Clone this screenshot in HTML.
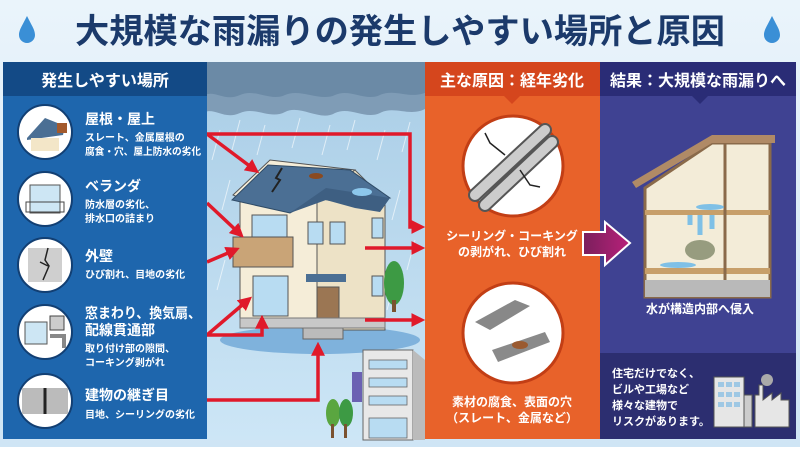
<!DOCTYPE html>
<html><head><meta charset="utf-8"><style>
body{margin:0;width:800px;height:447px;overflow:hidden;font-family:"Liberation Sans","Noto Sans CJK JP",sans-serif;}
svg text{font-family:"Liberation Sans","Noto Sans CJK JP",sans-serif;}
</style></head><body>
<svg width="800" height="447" viewBox="0 0 800 447" xmlns="http://www.w3.org/2000/svg">
<defs>
<linearGradient id="bg" x1="0" y1="0" x2="0" y2="1"><stop offset="0" stop-color="#eaf4fb"/><stop offset="1" stop-color="#cfe5f5"/></linearGradient>
<linearGradient id="sky" x1="0" y1="0" x2="0" y2="1"><stop offset="0" stop-color="#a9cde6"/><stop offset="1" stop-color="#cde6f6"/></linearGradient>
<linearGradient id="pa" x1="0" y1="0" x2="1" y2="0"><stop offset="0" stop-color="#7a1f5c"/><stop offset="1" stop-color="#b8207a"/></linearGradient>
<marker id="ar" markerWidth="4" markerHeight="4" refX="2.5" refY="2" orient="auto" markerUnits="strokeWidth"><path d="M0,0 L4,2 L0,4 Z" fill="#e0192a"/></marker>
</defs>
<rect width="800" height="447" fill="url(#bg)"/>
<path d="M27,16 C22,26 19,30 19,35 A8,8 0 0 0 35,35 C35,30 32,26 27,16Z" fill="#3a8fd6"/>
<path d="M772,16 C767,26 764,30 764,35 A8,8 0 0 0 780,35 C780,30 777,26 772,16Z" fill="#3a8fd6"/>
<text x="400" y="43" text-anchor="middle" font-size="34" font-weight="bold" fill="#1b3a6b" textLength="650" lengthAdjust="spacingAndGlyphs">大規模な雨漏りの発生しやすい場所と原因</text>

<rect x="205" y="62" width="222" height="378" fill="url(#sky)"/>
<path d="M205,62 H427 V108 C410,118 395,105 380,113 C365,120 350,106 335,113 C320,122 300,104 285,112 C270,120 255,106 240,113 C225,120 215,108 205,112Z" fill="#7f9cb6"/>
<path d="M205,62 H427 V92 C410,100 395,88 380,95 C365,102 350,88 335,95 C320,102 300,88 285,95 C270,102 255,88 240,95 C225,102 215,90 205,95Z" fill="#6b8aa6"/>
<g stroke="#ffffff" stroke-opacity="0.6" stroke-width="1">
<path d="M220,130 l-8,30 M240,120 l-8,30 M265,125 l-8,30 M300,118 l-8,30 M330,125 l-8,30 M355,120 l-8,30 M385,130 l-8,30 M410,122 l-8,30 M230,180 l-8,30 M400,190 l-8,30 M415,240 l-8,30 M225,260 l-8,30 M395,280 l-8,30"/>
</g>
<ellipse cx="320" cy="340" rx="100" ry="14" fill="#7fb2dc"/>
<polygon points="233,195 270,160 355,170 317,200 317,330 240,320 240,198" fill="#f5edd8" stroke="#555" stroke-width="1"/>
<polygon points="317,200 355,170 385,200 385,330 317,330" fill="#ede2c6" stroke="#555" stroke-width="1"/>
<polygon points="232,200 268,165 350,170 390,198 355,205 317,198 290,213" fill="#4b6f94" stroke="#2f4b66" stroke-width="1"/>
<polygon points="290,213 326,188 390,198 380,212 355,208 326,200" fill="#3e5f82"/>
<path d="M282,168 l-6,10 4,2 -8,12" stroke="#222" stroke-width="2" fill="none"/>
<ellipse cx="316" cy="176" rx="7" ry="3" fill="#8a4a20"/>
<ellipse cx="362" cy="192" rx="10" ry="4" fill="#8cc7ec"/>
<rect x="233" y="237" width="60" height="30" fill="#c9a477" stroke="#555"/>
<rect x="252" y="215" width="35" height="22" fill="#b8dcf2" stroke="#555"/>
<rect x="253" y="276" width="35" height="40" fill="#b8dcf2" stroke="#555"/>
<rect x="308" y="222" width="15" height="22" fill="#b8dcf2" stroke="#555"/>
<rect x="330" y="222" width="15" height="22" fill="#b8dcf2" stroke="#555"/>
<rect x="372" y="218" width="11" height="20" fill="#b8dcf2" stroke="#555"/>
<rect x="372" y="276" width="11" height="20" fill="#b8dcf2" stroke="#555"/>
<rect x="317" y="287" width="22" height="38" fill="#9b7653" stroke="#555"/>
<rect x="306" y="274" width="40" height="8" fill="#4b6f94"/>
<rect x="303" y="325" width="40" height="14" fill="#bbb" stroke="#666"/>
<rect x="240" y="318" width="145" height="10" fill="#c8c8c8" stroke="#777"/>
<ellipse cx="394" cy="283" rx="10" ry="22" fill="#3d9a44"/><rect x="392" y="300" width="4" height="12" fill="#7a5230"/>
<rect x="363" y="350" width="50" height="90" fill="#e8e8e8" stroke="#666"/>
<polygon points="413,350 425,360 425,440 413,440" fill="#bbb"/>
<rect x="352" y="372" width="10" height="30" fill="#6b61b3"/>
<g fill="#b8dcf2" stroke="#666" stroke-width="0.8"><rect x="369" y="360" width="38" height="9"/><rect x="369" y="378" width="38" height="9"/><rect x="369" y="396" width="38" height="9"/><rect x="369" y="418" width="38" height="20"/></g>
<ellipse cx="333" cy="413" rx="7" ry="14" fill="#5aa640"/><ellipse cx="346" cy="413" rx="7" ry="14" fill="#3d9a44"/>
<rect x="331" y="424" width="3" height="14" fill="#7a5230"/><rect x="344" y="424" width="3" height="14" fill="#7a5230"/>
<g stroke="#e0192a" stroke-width="3.5" fill="none" marker-end="url(#ar)">
<path d="M207,134 L255,170"/>
<path d="M207,134 H410 V227 H420"/>
<path d="M207,203 L240,234"/>
<path d="M207,262 L235,250"/>
<path d="M207,335 L248,300"/>
<path d="M207,335 H262 V320"/>
<path d="M207,400 H318 V347"/>
<path d="M365,248 H420"/>
<path d="M365,320 H420"/>
</g>

<rect x="3" y="62" width="204" height="377" fill="#1e66ad"/>
<rect x="3" y="62" width="204" height="34" fill="#134a86"/>
<text x="105" y="86" text-anchor="middle" font-size="16" font-weight="bold" fill="#fff">発生しやすい場所</text>
<g fill="#fff" stroke="#123f73" stroke-width="2">
<circle cx="45" cy="132" r="27"/><circle cx="45" cy="199" r="27"/><circle cx="45" cy="265" r="27"/><circle cx="45" cy="332" r="27"/><circle cx="45" cy="401" r="27"/>
</g>
<polygon points="27,138 45,118 65,126 63,135 27,140" fill="#4b6f94"/><rect x="31" y="138" width="28" height="13" fill="#f3e6c8"/><rect x="57" y="123" width="10" height="10" fill="#a35a2d"/>
<rect x="30" y="185" width="30" height="28" fill="#cde6f4" stroke="#555"/><rect x="26" y="202" width="38" height="10" fill="none" stroke="#444"/>
<rect x="28" y="248" width="34" height="34" fill="#cfcfcf"/><path d="M48,248 l-3,12 4,6 -6,14 M40,262 l8,4" stroke="#222" stroke-width="1.5" fill="none"/>
<rect x="25" y="322" width="22" height="22" fill="#cde6f4" stroke="#555"/><rect x="50" y="316" width="14" height="14" fill="#ccc" stroke="#444"/><path d="M50,336 h14 v12" stroke="#888" stroke-width="4" fill="none"/>
<rect x="22" y="388" width="46" height="26" fill="#bbb"/><line x1="45" y1="388" x2="45" y2="414" stroke="#222" stroke-width="3"/>
<g fill="#fff" font-weight="bold">
<text x="85" y="124" font-size="14">屋根・屋上</text>
<text x="85" y="141" font-size="10">スレート、金属屋根の</text>
<text x="85" y="155" font-size="10" textLength="116" lengthAdjust="spacingAndGlyphs">腐食・穴、屋上防水の劣化</text>
<text x="85" y="191" font-size="14">ベランダ</text>
<text x="85" y="208" font-size="10">防水層の劣化、</text>
<text x="85" y="222" font-size="10">排水口の詰まり</text>
<text x="85" y="261" font-size="14">外壁</text>
<text x="85" y="278" font-size="10">ひび割れ、目地の劣化</text>
<text x="85" y="318" font-size="14" textLength="116" lengthAdjust="spacingAndGlyphs">窓まわり、換気扇、</text>
<text x="85" y="335" font-size="14">配線貫通部</text>
<text x="85" y="352" font-size="10">取り付け部の隙間、</text>
<text x="85" y="366" font-size="10">コーキング剥がれ</text>
<text x="85" y="400" font-size="14">建物の継ぎ目</text>
<text x="85" y="418" font-size="10">目地、シーリングの劣化</text>
</g>

<rect x="425" y="62" width="175" height="377" fill="#e8622a"/>
<rect x="425" y="62" width="175" height="34" fill="#d5461d"/>
<polygon points="504,96 520,96 512,104" fill="#d5461d"/>
<text x="512" y="86" text-anchor="middle" font-size="16" font-weight="bold" fill="#fff">主な原因：経年劣化</text>
<circle cx="513" cy="166" r="50" fill="#fff" stroke="#c23e15" stroke-width="3"/>
<path d="M475,195 L545,130 M485,205 L552,142" stroke="#555" stroke-width="14" stroke-linecap="round" fill="none"/>
<path d="M475,195 L545,130 M485,205 L552,142" stroke="#ccc" stroke-width="10" stroke-linecap="round" fill="none"/>
<path d="M505,155 l-15,-12 -5,-10 M520,170 l10,15 10,2" stroke="#222" stroke-width="1.5" fill="none"/>
<text x="512" y="240" text-anchor="middle" font-size="12" font-weight="bold" fill="#fff">シーリング・コーキング</text>
<text x="512" y="256" text-anchor="middle" font-size="12" font-weight="bold" fill="#fff">の剥がれ、ひび割れ</text>
<circle cx="513" cy="333" r="50" fill="#fff" stroke="#c23e15" stroke-width="3"/>
<polygon points="475,322 515,300 530,306 490,330" fill="#888"/>
<polygon points="492,350 545,332 550,342 498,362" fill="#8a8a8a"/>
<ellipse cx="520" cy="345" rx="8" ry="4" fill="#9a5a30"/>
<text x="512" y="406" text-anchor="middle" font-size="12" font-weight="bold" fill="#fff">素材の腐食、表面の穴</text>
<text x="512" y="422" text-anchor="middle" font-size="12" font-weight="bold" fill="#fff">（スレート、金属など）</text>

<rect x="600" y="62" width="196" height="377" fill="#3f4292"/>
<rect x="600" y="62" width="196" height="34" fill="#2a2c76"/>
<polygon points="692,96 708,96 700,104" fill="#2a2c76"/>
<text x="698" y="86" text-anchor="middle" font-size="16" font-weight="bold" fill="#fff">結果：大規模な雨漏りへ</text>
<rect x="600" y="353" width="196" height="86" fill="#2c2e70"/>
<polygon points="583,232 605,232 605,222 630,243 605,265 605,255 583,255" fill="url(#pa)" stroke="#fff" stroke-width="2"/>
<polygon points="645,188 712,143 770,143 770,297 645,297" fill="#f3ecd8" stroke="#8a6a4a" stroke-width="3"/>
<polygon points="632,182 712,135 775,135 775,143 712,143 636,188" fill="#b08a66"/>
<rect x="645" y="210" width="125" height="5" fill="#c79f6a"/>
<rect x="645" y="268" width="125" height="6" fill="#c79f6a"/>
<rect x="645" y="280" width="125" height="17" fill="#b9b9b9"/>
<line x1="725" y1="143" x2="725" y2="280" stroke="#8a6a4a" stroke-width="3"/>
<ellipse cx="710" cy="207" rx="14" ry="3" fill="#7fc0e6"/>
<ellipse cx="678" cy="265" rx="18" ry="3" fill="#7fc0e6"/>
<path d="M700,215 v20 M712,215 v14 M690,215 v10" stroke="#7fc0e6" stroke-width="5"/>
<ellipse cx="700" cy="250" rx="15" ry="10" fill="#6f7a5a" opacity="0.7"/>
<text x="700" y="313" text-anchor="middle" font-size="12" font-weight="bold" fill="#fff">水が構造内部へ侵入</text>
<g fill="#fff" font-size="11" font-weight="bold">
<text x="612" y="377">住宅だけでなく、</text>
<text x="612" y="393">ビルや工場など</text>
<text x="612" y="409">様々な建物で</text>
<text x="612" y="425">リスクがあります。</text>
</g>
<rect x="714" y="377" width="30" height="50" fill="#e6e6e6" stroke="#555"/>
<rect x="744" y="395" width="8" height="32" fill="#ccc" stroke="#555"/>
<g fill="#9fc8e4"><rect x="718" y="382" width="6" height="5"/><rect x="726" y="382" width="6" height="5"/><rect x="734" y="382" width="6" height="5"/><rect x="718" y="392" width="6" height="5"/><rect x="726" y="392" width="6" height="5"/><rect x="734" y="392" width="6" height="5"/><rect x="718" y="402" width="6" height="5"/><rect x="726" y="402" width="6" height="5"/><rect x="734" y="402" width="6" height="5"/></g>
<polygon points="755,427 755,395 759,395 759,385 763,385 763,400 772,393 772,400 781,393 781,400 789,400 789,427" fill="#e6e6e6" stroke="#555"/>
<circle cx="767" cy="380" r="6" fill="#aaa"/>
</svg>
</body></html>
